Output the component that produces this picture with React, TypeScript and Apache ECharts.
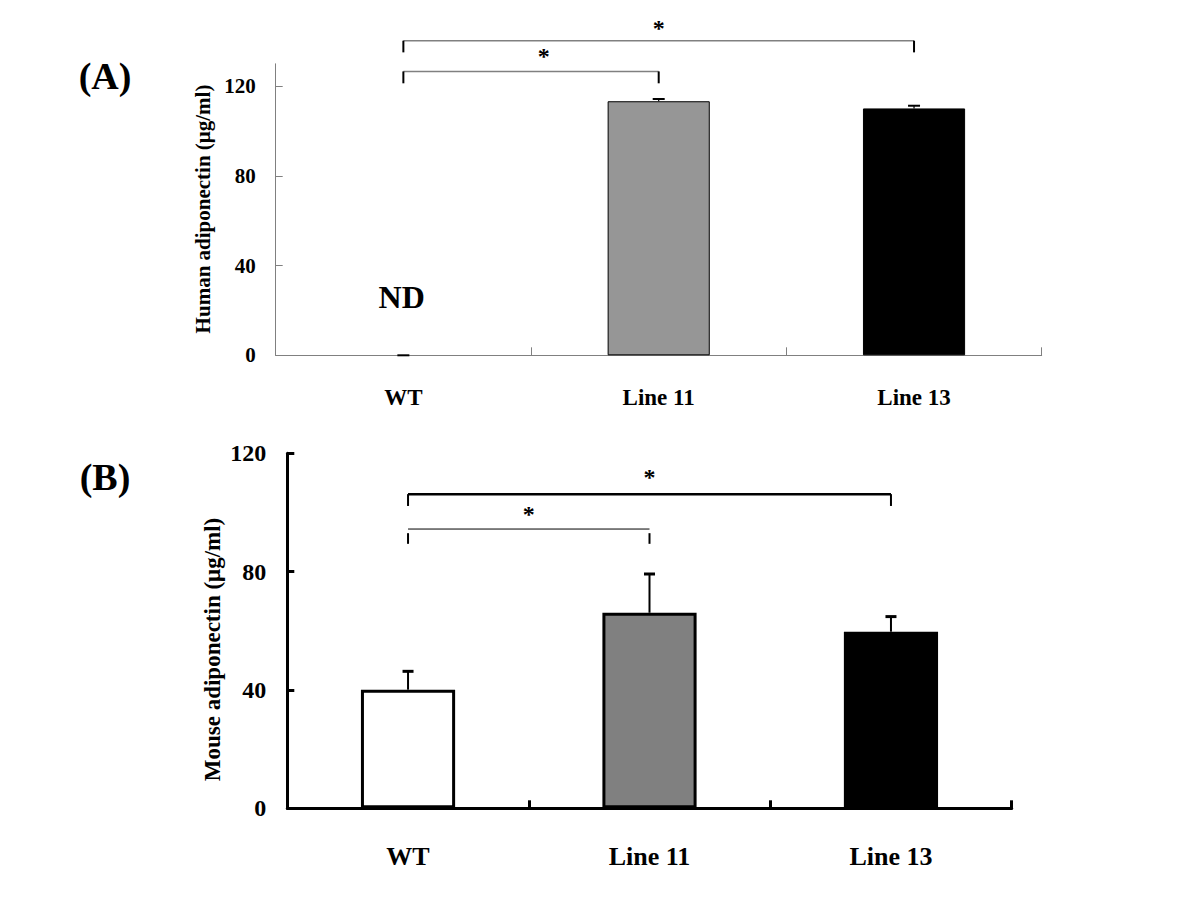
import React, { useEffect, useRef } from "react";
import * as echarts from "echarts";

const categories = ["WT", "Line 11", "Line 13"];
// Panel A: human adiponectin (µg/ml), WT not detected
const humanMean = [0, 113.3, 110.1];
const humanErr = [0, 1.0, 1.2];
// Panel B: mouse adiponectin (µg/ml)
const mouseMean = [40.1, 66.1, 59.7];
const mouseErr = [6.2, 13.1, 5.1];
const humanTicks = [0, 40, 80, 120];
const mouseTicks = [0, 40, 80, 120];
// significance brackets: [fromIdx, toIdx, barY, dropTopY, dropBottomY, starPos]
const humanBrackets = [
  [0, 1, 126.6, 126.6, 121.3, 0.55],
  [0, 2, 140.3, 140.3, 135.1, 0.5],
];
const mouseBrackets = [
  [0, 1, 94.4, 93.0, 89.4, 0.5],
  [0, 2, 106.2, 106.2, 102.2, 0.5],
];
const sigMark = "*";
const ndLabel = "ND";
const humanTitle = "Human adiponectin (\u03bcg/ml)";
const mouseTitle = "Mouse adiponectin (\u03bcg/ml)";

const FONT = "'Liberation Serif', 'Times New Roman', serif";

function errorSeries(means: number[], errs: number[], xi: number, lw: number, capHalf: number, capW: number) {
  return {
    type: "custom",
    xAxisIndex: xi,
    yAxisIndex: xi,
    silent: true,
    clip: false,
    z: 5,
    data: means.map((m, i) => [i, m, m + errs[i]]),
    encode: { x: 0, y: [1, 2] },
    renderItem: (params: any, api: any) => {
      const base = api.coord([api.value(0), api.value(1)]);
      const top = api.coord([api.value(0), api.value(2)]);
      return {
        type: "group",
        children: [
          {
            type: "line",
            shape: { x1: base[0], y1: base[1], x2: top[0], y2: top[1] },
            style: { stroke: "#000", lineWidth: lw },
          },
          {
            type: "line",
            shape: { x1: top[0] - capHalf, y1: top[1], x2: top[0] + capHalf, y2: top[1] },
            style: { stroke: "#000", lineWidth: capW },
          },
        ],
      };
    },
  };
}

function bracketSeries(data: number[][], xi: number, styles: any[]) {
  return {
    type: "custom",
    xAxisIndex: xi,
    yAxisIndex: xi,
    silent: true,
    clip: false,
    z: 6,
    data,
    encode: { x: [0, 1], y: [2, 3, 4] },
    renderItem: (params: any, api: any) => {
      const st = styles[params.dataIndex];
      const a = api.coord([api.value(0), api.value(2)]);
      const b = api.coord([api.value(1), api.value(2)]);
      const dt = api.coord([api.value(0), api.value(3)]);
      const db = api.coord([api.value(0), api.value(4)]);
      const t = api.value(5);
      return {
        type: "group",
        children: [
          {
            type: "line",
            shape: { x1: a[0], y1: a[1], x2: b[0], y2: b[1] },
            style: { stroke: st.barColor, lineWidth: st.barWidth },
          },
          {
            type: "line",
            shape: { x1: a[0], y1: dt[1], x2: a[0], y2: db[1] },
            style: { stroke: "#000", lineWidth: st.dropWidth },
          },
          {
            type: "line",
            shape: { x1: b[0], y1: dt[1], x2: b[0], y2: db[1] },
            style: { stroke: "#000", lineWidth: st.dropWidth },
          },
          {
            type: "text",
            x: a[0] + (b[0] - a[0]) * t,
            y: a[1] - st.starGap,
            style: {
              text: sigMark,
              font: `bold 24px ${FONT}`,
              fill: "#000",
              align: "center",
              verticalAlign: "middle",
            },
          },
        ],
      };
    },
  };
}

export default function App() {
  const ref = useRef<HTMLDivElement>(null);
  useEffect(() => {
    if (!ref.current) return;
    const chart = echarts.init(ref.current, null, { renderer: "svg" });
    const humanColors = ["transparent", "#969696", "#000000"];
    const mouseColors = ["#ffffff", "#808080", "#000000"];
    const option: any = {
      animation: false,
      backgroundColor: "#ffffff",
      grid: [
        { left: 275.7, top: 63.8, width: 766, height: 291.5 },
        { left: 287.3, top: 453.3, width: 724.4, height: 355 },
      ],
      xAxis: [
        {
          type: "category",
          gridIndex: 0,
          data: categories,
          axisLine: { lineStyle: { color: "#808080", width: 1 } },
          axisTick: { show: true, inside: true, length: 8, lineStyle: { color: "#808080", width: 1 } },
          axisLabel: {
            color: "#000",
            fontFamily: FONT,
            fontWeight: "bold",
            fontSize: 23,
            margin: 31,
          },
          splitLine: { show: false },
        },
        {
          type: "category",
          gridIndex: 1,
          data: categories,
          axisLine: { lineStyle: { color: "#000", width: 3 } },
          axisTick: { show: true, inside: true, length: 8, lineStyle: { color: "#000", width: 3 } },
          axisLabel: {
            color: "#000",
            fontFamily: FONT,
            fontWeight: "bold",
            fontSize: 26,
            margin: 35,
          },
          splitLine: { show: false },
        },
      ],
      yAxis: [
        {
          type: "value",
          gridIndex: 0,
          min: 0,
          max: 130,
          interval: 40,
          axisLine: { show: true, lineStyle: { color: "#808080", width: 1 } },
          axisTick: {
            show: true,
            inside: true,
            length: 7,
            customValues: humanTicks,
            lineStyle: { color: "#808080", width: 1 },
          },
          axisLabel: {
            color: "#000",
            fontFamily: FONT,
            fontWeight: "bold",
            fontSize: 21,
            margin: 20,
            customValues: humanTicks,
          },
          splitLine: { show: false },
        },
        {
          type: "value",
          gridIndex: 1,
          min: 0,
          max: 120,
          interval: 40,
          axisLine: { show: true, lineStyle: { color: "#000", width: 3 } },
          axisTick: {
            show: true,
            inside: true,
            length: 7,
            customValues: mouseTicks,
            lineStyle: { color: "#000", width: 3 },
          },
          axisLabel: {
            color: "#000",
            fontFamily: FONT,
            fontWeight: "bold",
            fontSize: 24,
            margin: 21,
            customValues: mouseTicks,
          },
          splitLine: { show: false },
        },
      ],
      series: [
        {
          type: "bar",
          xAxisIndex: 0,
          yAxisIndex: 0,
          barWidth: "40%",
          silent: true,
          data: humanMean.map((v, i) => ({
            value: v,
            itemStyle: {
              color: humanColors[i],
              borderColor: "#000",
              borderWidth: v === 0 ? 0 : 1,
            },
          })),
        },
        {
          type: "bar",
          xAxisIndex: 1,
          yAxisIndex: 1,
          barWidth: "39%",
          silent: true,
          data: mouseMean.map((v, i) => ({
            value: v,
            itemStyle: { color: mouseColors[i], borderColor: "#000", borderWidth: 3 },
          })),
        },
        errorSeries(humanMean, humanErr, 0, 1.2, 6, 2),
        errorSeries(mouseMean, mouseErr, 1, 2, 5.5, 3),
        bracketSeries(humanBrackets, 0, [
          { barColor: "#808080", barWidth: 1.5, dropWidth: 2, starGap: 15 },
          { barColor: "#808080", barWidth: 1.5, dropWidth: 2, starGap: 13 },
        ]),
        bracketSeries(mouseBrackets, 1, [
          { barColor: "#000", barWidth: 1, dropWidth: 2, starGap: 15 },
          { barColor: "#000", barWidth: 2.5, dropWidth: 2, starGap: 17 },
        ]),
      ],
      graphic: [
        {
          type: "text",
          x: 105,
          y: 76,
          style: { text: "(A)", font: `bold 38px ${FONT}`, fill: "#000", align: "center", verticalAlign: "middle" },
        },
        {
          type: "text",
          x: 105,
          y: 477,
          style: { text: "(B)", font: `bold 38px ${FONT}`, fill: "#000", align: "center", verticalAlign: "middle" },
        },
        {
          type: "text",
          x: 202.5,
          y: 209,
          rotation: Math.PI / 2,
          style: { text: humanTitle, font: `bold 21px ${FONT}`, fill: "#000", align: "center", verticalAlign: "middle" },
        },
        {
          type: "text",
          x: 212.5,
          y: 649.5,
          rotation: Math.PI / 2,
          style: { text: mouseTitle, font: `bold 23px ${FONT}`, fill: "#000", align: "center", verticalAlign: "middle" },
        },
        {
          type: "text",
          x: 401.7,
          y: 297,
          style: { text: ndLabel, font: `bold 32px ${FONT}`, fill: "#000", align: "center", verticalAlign: "middle" },
        },
      ],
    };
    chart.setOption(option);
    return () => chart.dispose();
  }, []);
  return (
    <div
      ref={ref}
      style={{ position: "absolute", left: 0, top: 0, width: 1200, height: 900, background: "#fff" }}
    />
  );
}
